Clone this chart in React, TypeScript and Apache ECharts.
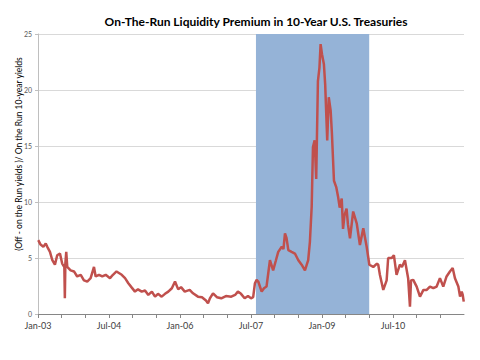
import React, { useEffect, useRef } from "react";
import * as echarts from "echarts";

const titleText = "On-The-Run Liquidity Premium in 10-Year U.S. Treasuries";
const yAxisName = "(Off - on the Run yields )/ On the Run 10-year yields";

const dates = [
  "2003-01-03","2003-01-21","2003-02-11","2003-02-28","2003-03-12","2003-04-02","2003-04-20","2003-05-10","2003-05-28","2003-06-18",
  "2003-07-05","2003-07-22","2003-07-26","2003-07-30","2003-08-06","2003-08-14","2003-09-09","2003-10-05","2003-10-30","2003-11-26",
  "2003-12-21","2004-01-16","2004-02-11","2004-03-07","2004-03-20","2004-04-15","2004-05-10","2004-06-06","2004-07-09","2004-08-01",
  "2004-08-29","2004-10-08","2004-11-03","2004-11-28","2004-12-22","2005-01-19","2005-02-11","2005-03-10","2005-04-05","2005-04-30",
  "2005-05-28","2005-06-21","2005-07-14","2005-08-12","2005-09-07","2005-10-02","2005-10-30","2005-11-23","2005-12-18","2006-01-09",
  "2006-02-07","2006-03-15","2006-04-10","2006-05-18","2006-06-18","2006-07-19","2006-08-04","2006-08-19","2006-09-12","2006-10-12",
  "2006-11-15","2006-12-21","2007-02-01","2007-02-28","2007-03-22","2007-04-15","2007-05-13","2007-06-08","2007-07-01","2007-07-18",
  "2007-08-01","2007-08-14","2007-08-27","2007-09-22","2007-10-10","2007-10-30","2007-11-25","2007-12-20","2008-01-11","2008-01-29",
  "2008-02-24","2008-03-08","2008-03-20","2008-04-01","2008-04-15","2008-05-10","2008-06-05","2008-07-01","2008-07-27","2008-08-22",
  "2008-09-16","2008-09-29","2008-10-13","2008-10-23","2008-11-05","2008-11-17","2008-11-30","2008-12-12","2008-12-21","2009-01-01",
  "2009-01-16","2009-01-26","2009-02-10","2009-02-21","2009-03-07","2009-03-17","2009-04-02","2009-04-20","2009-05-03","2009-05-16",
  "2009-06-01","2009-06-11","2009-06-22","2009-07-08","2009-07-19","2009-08-04","2009-08-29","2009-09-25","2009-10-20","2009-11-15",
  "2009-12-11","2010-01-01","2010-02-01","2010-02-27","2010-03-09","2010-03-22","2010-04-17","2010-05-13","2010-05-25","2010-06-21",
  "2010-07-08","2010-07-29","2010-08-24","2010-09-09","2010-10-02","2010-10-27","2010-11-10","2010-11-18","2010-12-05","2011-01-01",
  "2011-01-27","2011-02-21","2011-03-18","2011-04-12","2011-05-08","2011-06-03","2011-06-28","2011-07-24","2011-08-19","2011-09-14",
  "2011-10-05","2011-10-23","2011-11-18","2011-12-01","2011-12-14","2011-12-22","2011-12-30"
];

const premium = [
  6.6, 6.2, 6.0, 6.3, 6.0, 5.55, 4.8, 4.4, 5.25, 5.4,
  4.5, 4.2, 1.4, 4.5, 5.55, 4.2, 3.9, 3.8, 3.35, 3.5,
  3.0, 2.9, 3.2, 4.2, 3.35, 3.5, 3.35, 3.5, 3.2, 3.5,
  3.8, 3.5, 3.2, 2.75, 2.4, 2.0, 2.2, 2.0, 2.1, 1.7,
  2.0, 1.55, 1.8, 1.55, 1.8, 2.0, 2.3, 2.9, 2.2, 2.4,
  2.0, 2.15, 1.85, 1.55, 1.5, 1.2, 0.95, 1.4, 1.85, 1.5,
  1.4, 1.6, 1.55, 1.7, 2.0, 1.8, 1.4, 1.6, 1.4, 1.5,
  2.75, 3.05, 2.9, 2.0, 2.3, 2.45, 4.8, 3.9, 4.8, 5.55,
  6.0, 5.8, 7.2, 6.8, 5.7, 5.55, 5.4, 4.8, 4.4, 3.9,
  4.8, 6.45, 9.6, 14.9, 15.5, 12.05, 20.8, 22.0, 24.1, 23.2,
  22.3, 20.5, 15.5, 19.35, 18.15, 16.1, 11.9, 11.3, 10.5, 9.5,
  10.3, 7.6, 8.8, 9.4, 8.0, 6.75, 9.15, 8.1, 6.15, 7.65,
  6.0, 4.4, 4.2, 4.5, 4.4, 3.5, 2.15, 3.0, 5.0, 5.0,
  5.25, 3.5, 4.4, 4.2, 4.8, 3.2, 0.65, 3.0, 3.05, 2.45,
  1.55, 2.15, 2.15, 2.45, 2.3, 2.45, 3.2, 2.45, 3.35, 3.8,
  4.1, 3.2, 2.45, 1.55, 2.0, 1.7, 1.1
];

const shadeStart = "2007-08-09";
const shadeEnd = "2009-12-31";

const monthNames = ["Jan","Feb","Mar","Apr","May","Jun","Jul","Aug","Sep","Oct","Nov","Dec"];
const baseYear = 2003;

function toMonths(s: string): number {
  const [y, m, d] = s.split("-").map(Number);
  const dim = new Date(y, m, 0).getDate();
  return (y - baseYear) * 12 + (m - 1) + (d - 1) / dim;
}

function fmtMonth(v: number): string {
  const idx = Math.round(v);
  const y = baseYear + Math.floor(idx / 12);
  return monthNames[idx % 12] + "-" + String(y % 100).padStart(2, "0");
}

export default function App() {
  const ref = useRef<HTMLDivElement>(null);
  useEffect(() => {
    if (!ref.current) return;
    const chart = echarts.init(ref.current, undefined, { renderer: "svg" });
    const font = "Lato, 'Open Sans', sans-serif";
    chart.setOption({
      animation: false,
      backgroundColor: "#ffffff",
      title: {
        text: titleText,
        left: 251,
        top: 10,
        textAlign: "center",
        textStyle: { fontFamily: font, fontSize: 12, fontWeight: "bold", color: "#000000" },
      },
      graphic: [
        {
          type: "text",
          x: 19,
          y: 154,
          rotation: Math.PI / 2,
          style: {
            text: yAxisName,
            fontFamily: font,
            fontSize: 8.5,
            fill: "#000000",
            align: "center",
            verticalAlign: "middle",
          },
        },
      ],
      grid: { left: 38, right: 16, top: 34, bottom: 46 },
      xAxis: {
        type: "value",
        min: 0,
        max: 108,
        interval: 6,
        axisLine: { show: true, lineStyle: { color: "#868686", width: 1 } },
        axisTick: { show: true, length: 4, lineStyle: { color: "#868686" } },
        axisLabel: {
          formatter: (v: number) => (v % 18 === 0 && v < 108 ? fmtMonth(v) : ""),
          fontFamily: font,
          fontSize: 9,
          color: "#404040",
          margin: 7,
          showMaxLabel: false,
        },
        splitLine: { show: false },
      },
      yAxis: {
        type: "value",
        min: 0,
        max: 25,
        interval: 5,
        axisLine: { show: true, lineStyle: { color: "#bfbfbf" } },
        axisTick: { show: true, length: 3, lineStyle: { color: "#bfbfbf" } },
        axisLabel: { fontFamily: font, fontSize: 7, color: "#595959", margin: 6 },
        splitLine: { show: true, lineStyle: { color: "#d9d9d9", width: 1 } },
      },
      series: [
        {
          type: "line",
          data: [],
          z: 1,
          silent: true,
          markArea: {
            silent: true,
            itemStyle: { color: "#95b3d7", opacity: 1 },
            data: [[{ xAxis: toMonths(shadeStart) }, { xAxis: toMonths(shadeEnd) }]],
          },
        },
        {
          type: "line",
          z: 3,
          data: dates.map((d, i) => [toMonths(d), premium[i]]),
          showSymbol: false,
          symbol: "none",
          lineStyle: { color: "#c0504d", width: 2.5 },
        },
      ],
    });
    return () => chart.dispose();
  }, []);
  return <div ref={ref} style={{ width: 480, height: 360, position: "absolute", left: 0, top: 0 }} />;
}
